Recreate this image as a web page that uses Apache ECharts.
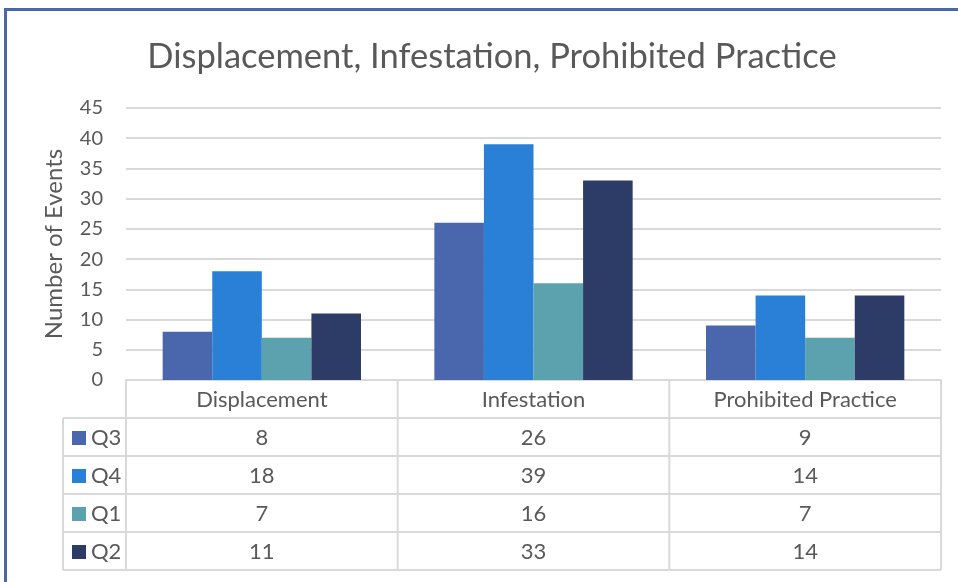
<!DOCTYPE html>
<html><head><meta charset="utf-8">
<script src="https://cdn.jsdelivr.net/npm/echarts@6/dist/echarts.min.js"></script>
<style>html,body{margin:0;padding:0;background:#fff;}#c{width:958px;height:582px;}</style>
</head><body><div id="c"></div>
<script>
const categories = ['Displacement', 'Infestation', 'Prohibited Practice'];
const seriesNames = ['Q3', 'Q4', 'Q1', 'Q2'];
const q3 = [8, 26, 9];
const q4 = [18, 39, 14];
const q1 = [7, 16, 7];
const q2 = [11, 33, 14];
const seriesValues = [q3, q4, q1, q2];
const yTicks = [0, 5, 10, 15, 20, 25, 30, 35, 40, 45];
const titleText = 'Displacement, Infestation, Prohibited Practice';
const yName = 'Number of Events';

const colors = ['#4A66AC', '#2A7FD6', '#5BA2AE', '#2C3C67'];
const FONT = 'Lato';
const TXT = '#595959';
const LINE = '#D9D9D9';
const TFONT = '22px ' + FONT;

const chart = echarts.init(document.getElementById('c'), null, {renderer: 'canvas'});
const base = {
  animation: false,
  color: colors,
  title: {
    text: titleText, left: 487, top: 34, textAlign: 'center',
    textStyle: {fontFamily: FONT, fontSize: 34.5, fontWeight: 'normal', color: TXT}
  },
  grid: {left: 126, right: 17, top: 108, bottom: 202, containLabel: false},
  xAxis: {
    type: 'category', data: categories,
    axisLine: {show: true, lineStyle: {color: LINE, width: 2}},
    axisTick: {show: false}, axisLabel: {show: false}
  },
  yAxis: {
    type: 'value', min: yTicks[0], max: yTicks[yTicks.length - 1], interval: 5,
    name: yName, nameLocation: 'middle', nameGap: 60, nameRotate: 90,
    nameTextStyle: {fontFamily: FONT, fontSize: 24, color: TXT},
    axisLine: {show: false}, axisTick: {show: false},
    axisLabel: {fontFamily: FONT, fontSize: 20, color: TXT, margin: 23},
    splitLine: {lineStyle: {color: LINE, width: 2}}
  },
  series: seriesValues.map((vals, i) => ({
    name: seriesNames[i], type: 'bar', data: vals,
    barGap: '0%', barCategoryGap: '27%',
    itemStyle: {color: colors[i]}
  }))
};
chart.setOption(base);

// Build the data table under the plot from the axis scale
const centers = categories.map((c, i) => chart.convertToPixel({xAxisIndex: 0}, i));
const band = centers[1] - centers[0];
const bounds = [centers[0] - band / 2].concat(centers.map(c => c + band / 2));
const yTop = chart.convertToPixel({yAxisIndex: 0}, 0);
const rowH = 38;
const legendLeft = 63;
const headerBottom = yTop + 38;
const tableBottom = headerBottom + rowH * seriesNames.length;
const g = [];
// border of chart area
g.push({type: 'line', shape: {x1: 5.5, y1: 9.5, x2: 958, y2: 9.5}, style: {stroke: '#4A67AD', lineWidth: 3}});
g.push({type: 'line', shape: {x1: 5.5, y1: 8, x2: 5.5, y2: 582}, style: {stroke: '#4A67AD', lineWidth: 3}});
// vertical lines
bounds.forEach(x => g.push({type: 'line', shape: {x1: x, y1: yTop, x2: x, y2: tableBottom}, style: {stroke: LINE, lineWidth: 2}}));
g.push({type: 'line', shape: {x1: legendLeft, y1: headerBottom, x2: legendLeft, y2: tableBottom}, style: {stroke: LINE, lineWidth: 2}});
// horizontal lines
for (let r = 0; r <= seriesNames.length; r++) {
  const y = headerBottom + r * rowH;
  g.push({type: 'line', shape: {x1: legendLeft, y1: y, x2: bounds[bounds.length - 1], y2: y}, style: {stroke: LINE, lineWidth: 2}});
}
// header texts
categories.forEach((c, i) => g.push({type: 'text', x: centers[i], y: (yTop + headerBottom) / 2 + 1,
  style: {text: c, fill: TXT, font: TFONT, textAlign: 'center', textVerticalAlign: 'middle'}}));
// rows
seriesNames.forEach((s, r) => {
  const cy = headerBottom + r * rowH + rowH / 2 + 1;
  g.push({type: 'rect', shape: {x: 72, y: cy - 7, width: 14, height: 14}, style: {fill: colors[r]}});
  g.push({type: 'text', x: 91, y: cy, style: {text: s, fill: TXT, font: TFONT, textAlign: 'left', textVerticalAlign: 'middle'}});
  seriesValues[r].forEach((v, i) => g.push({type: 'text', x: centers[i], y: cy,
    style: {text: String(v), fill: TXT, font: TFONT, textAlign: 'center', textVerticalAlign: 'middle'}}));
});
chart.setOption({graphic: g});
</script></body></html>
